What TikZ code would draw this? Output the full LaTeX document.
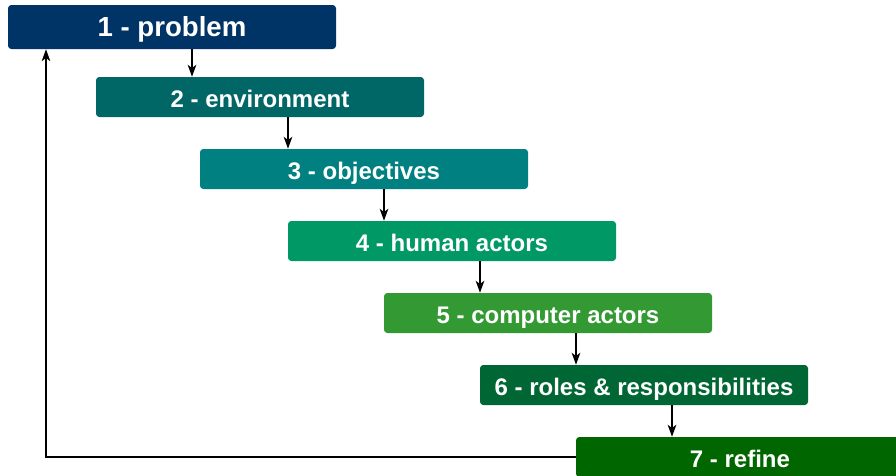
\documentclass[tikz,border=0pt]{standalone}
\usepackage{fontspec}
\setmainfont{Liberation Sans}
\usetikzlibrary{arrows.meta}

\definecolor{stepone}{HTML}{003366}
\definecolor{steptwo}{HTML}{006666}
\definecolor{stepthree}{HTML}{008080}
\definecolor{stepfour}{HTML}{009966}
\definecolor{stepfive}{HTML}{339933}
\definecolor{stepsix}{HTML}{006633}
\definecolor{stepseven}{HTML}{006600}

\tikzset{
  stage/.style={rectangle, rounded corners=2.5pt, text=white, inner sep=0pt,
    minimum width=246pt, minimum height=30pt, text height=16pt, text depth=0pt,
    font=\fontsize{18pt}{20pt}\selectfont\bfseries},
  flow/.style={draw=black, line width=0.9pt, -{Stealth[length=9pt,width=6.5pt,inset=2.5pt]}}
}

\begin{document}
\begin{tikzpicture}[x=0.75pt, y=-0.75pt]
    \useasboundingbox (0,0) rectangle (896,475);

    % the seven stages, each one step down and right
    \node[stage, fill=stepone, minimum height=33pt, text height=13.5pt,
          font=\fontsize{20.7pt}{22pt}\selectfont\bfseries] (problem) at (172,27) {1 - problem};
    \node[stage, fill=steptwo]   (environment) at (260,97)  {2 - environment};
    \node[stage, fill=stepthree] (objectives)  at (364,169) {3 - objectives};
    \node[stage, fill=stepfour]  (human)       at (452,241) {4 - human actors};
    \node[stage, fill=stepfive]  (computer)    at (548,313) {5 - computer actors};
    \node[stage, fill=stepsix]   (roles)       at (644,385) {6 - roles \& responsibilities};
    \node[stage, fill=stepseven] (refine)      at (740,457) {7 - refine};

    % arrows between stages
    \foreach \from/\to/\x in {problem/environment/192, environment/objectives/288,
        objectives/human/384, human/computer/480, computer/roles/576, roles/refine/672}
    {
	\coordinate (a\x) at (\x,0);
	\draw[flow] (\from.south -| a\x) -- (\to.north -| a\x);
    }

    % loop back to the start
    \coordinate (back) at (46,0);
    \draw[flow] (refine.west) -| (problem.south -| back);
\end{tikzpicture}
\end{document}
